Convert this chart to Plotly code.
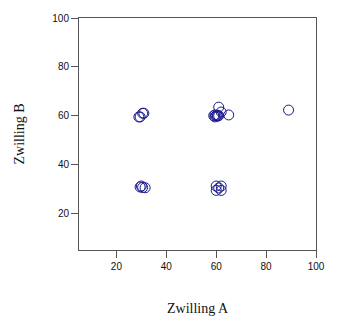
import plotly.graph_objects as go

# Paired measurements of the twins
zwilling_a = [29, 29.5, 30.5, 31,
              59, 59.5, 60, 60.5, 61, 59.5, 60.5, 61, 62, 65, 89,
              29.5, 30, 30.5, 31.5,
              60, 62, 60, 62, 61]
zwilling_b = [59.5, 59.5, 61, 61,
              60, 59.5, 60, 59.8, 60, 60.3, 60.2, 63.5, 61.5, 60.3, 62.3,
              30.8, 31.2, 30.6, 30.5,
              31.2, 31.2, 29.4, 29.4, 30.4]

x_ticks = [20, 40, 60, 80, 100]
y_ticks = [20, 40, 60, 80, 100]

marker_color = "#1a1a8c"
frame_color = "#555555"

fig = go.Figure(
    go.Scatter(
        x=zwilling_a,
        y=zwilling_b,
        mode="markers",
        marker=dict(symbol="circle-open", size=10, color=marker_color,
                    line=dict(width=1, color=marker_color)),
        hoverinfo="x+y",
    )
)

axis_common = dict(
    showgrid=False,
    zeroline=False,
    showline=True,
    linecolor=frame_color,
    linewidth=1,
    mirror=True,
    ticks="outside",
    ticklen=7,
    tickcolor=frame_color,
    tickfont=dict(family="Liberation Sans, Arial, sans-serif", size=10, color="#111111"),
)

title_font = dict(family="Liberation Serif, Times New Roman, serif", size=14, color="#111111")

fig.update_xaxes(
    range=[5, 100], tickvals=x_ticks, ticktext=[str(v) for v in x_ticks],
    title=dict(text="Zwilling A", standoff=32, font=title_font),
    **axis_common,
)
fig.update_yaxes(
    range=[5, 100], tickvals=y_ticks, ticktext=[str(v) for v in y_ticks],
    title=dict(text="Zwilling B", standoff=24, font=title_font),
    **axis_common,
)

fig.update_layout(
    width=337, height=326,
    margin=dict(l=79, r=12, t=14, b=69),
    paper_bgcolor="white", plot_bgcolor="white",
    showlegend=False,
)

fig.write_html("out.html")
